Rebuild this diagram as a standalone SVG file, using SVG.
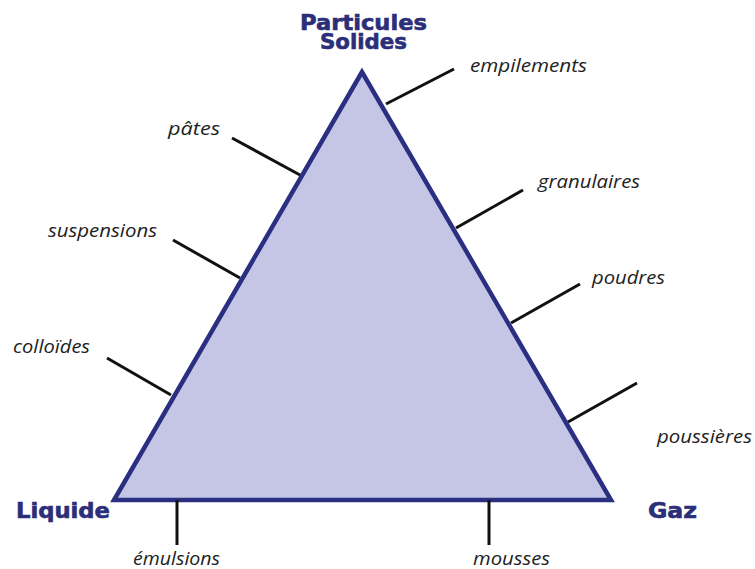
<svg xmlns="http://www.w3.org/2000/svg" width="755" height="569" viewBox="0 0 755 569">
<style>
.vertex{font-family:"DejaVu Sans","Liberation Sans",sans-serif;font-weight:bold;font-size:21px;fill:#2b2e78;stroke:#2b2e78;stroke-width:0.6}
.lbl{font-family:"Open Sans","Liberation Sans",sans-serif;font-style:italic;font-weight:500;font-size:18px;fill:#222}
.tick{stroke:#111;stroke-width:3;stroke-linecap:butt;fill:none}
</style>
<rect width="755" height="569" fill="#ffffff"/>
<g id="triangle">
<polygon points="362,72 114,500 611,500" fill="#c5c6e6" stroke="#2a2f82" stroke-width="4.5" stroke-linejoin="miter"/>
</g>
<g id="connectors">
<line class="tick" x1="386" y1="104" x2="454" y2="69"/>
<line class="tick" x1="232" y1="138" x2="300" y2="175"/>
<line class="tick" x1="173" y1="240" x2="240" y2="278"/>
<line class="tick" x1="107" y1="358" x2="171" y2="395"/>
<line class="tick" x1="456" y1="228" x2="523" y2="190"/>
<line class="tick" x1="511" y1="323" x2="580" y2="284"/>
<line class="tick" x1="568" y1="422" x2="637" y2="383"/>
<line class="tick" x1="177" y1="500" x2="177" y2="545"/>
<line class="tick" x1="489" y1="500" x2="489" y2="545"/>
</g>
<g id="node-solides">
<text class="vertex" x="363.5" y="30" text-anchor="middle" textLength="127" lengthAdjust="spacingAndGlyphs">Particules</text>
<text class="vertex" x="363.5" y="49" text-anchor="middle" textLength="87" lengthAdjust="spacingAndGlyphs">Solides</text>
</g>
<g id="node-liquide">
<text class="vertex" x="16" y="518" textLength="94" lengthAdjust="spacingAndGlyphs">Liquide</text>
</g>
<g id="node-gaz">
<text class="vertex" x="648" y="518" textLength="49" lengthAdjust="spacingAndGlyphs">Gaz</text>
</g>
<g id="label-empilements"><text class="lbl" x="470" y="72" textLength="117" lengthAdjust="spacingAndGlyphs">empilements</text></g>
<g id="label-pates"><text class="lbl" x="168" y="135" textLength="52" lengthAdjust="spacingAndGlyphs">pâtes</text></g>
<g id="label-suspensions"><text class="lbl" x="48" y="237" textLength="109" lengthAdjust="spacingAndGlyphs">suspensions</text></g>
<g id="label-colloides"><text class="lbl" x="13" y="353" textLength="77" lengthAdjust="spacingAndGlyphs">colloïdes</text></g>
<g id="label-granulaires"><text class="lbl" x="538" y="188" textLength="102" lengthAdjust="spacingAndGlyphs">granulaires</text></g>
<g id="label-poudres"><text class="lbl" x="592" y="284" textLength="73" lengthAdjust="spacingAndGlyphs">poudres</text></g>
<g id="label-poussieres"><text class="lbl" x="657" y="443" textLength="95" lengthAdjust="spacingAndGlyphs">poussières</text></g>
<g id="label-emulsions"><text class="lbl" x="133" y="565" textLength="87" lengthAdjust="spacingAndGlyphs">émulsions</text></g>
<g id="label-mousses"><text class="lbl" x="473" y="565" textLength="77" lengthAdjust="spacingAndGlyphs">mousses</text></g>
</svg>
